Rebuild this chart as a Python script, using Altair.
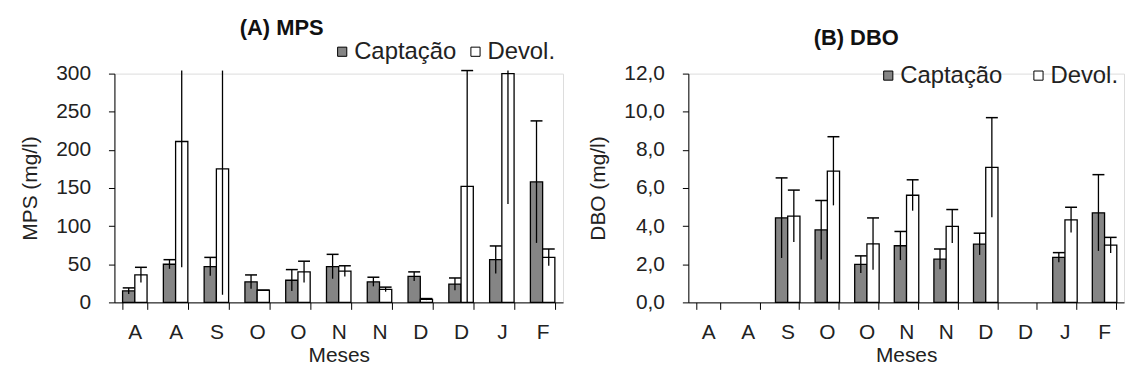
import altair as alt
import pandas as pd

FONT = "Liberation Sans"

meses = ["A", "A", "S", "O", "O", "N", "N", "D", "D", "J", "F"]
chaves = ["A1", "A2", "S", "O1", "O2", "N1", "N2", "D1", "D2", "J", "F"]
series = ["Captação", "Devol."]

# (A) MPS (mg/l)
mps_capt = [15, 50, 47, 27, 29, 47, 27, 34, 24, 56, 158]
mps_capt_err = [4, 6, 12, 9, 14, 16, 6, 6, 8, 18, 80]
mps_devol = [36, 211, 175, 16, 40, 41, 17, 4, 152, 300, 59]
mps_devol_err = [10, 165, 165, 0, 14, 7, 3, 1, 152, 171, 11]

# (B) DBO (mg/l)
dbo_capt = [None, None, 4.43, 3.80, 1.99, 2.97, 2.27, 3.06, None, 2.36, 4.70]
dbo_capt_err = [None, None, 2.1, 1.55, 0.45, 0.75, 0.53, 0.57, None, 0.25, 2.0]
dbo_devol = [None, None, 4.53, 6.89, 3.07, 5.62, 3.99, 7.08, None, 4.33, 3.0]
dbo_devol_err = [None, None, 1.36, 1.8, 1.36, 0.81, 0.88, 2.61, None, 0.66, 0.41]


def tabela(capt, capt_err, devol, devol_err):
    linhas = []
    for i, k in enumerate(chaves):
        for s, v, e in ((series[0], capt[i], capt_err[i]), (series[1], devol[i], devol_err[i])):
            if v is None:
                continue
            linhas.append({"chave": k, "serie": s, "valor": v, "erro": e})
    return pd.DataFrame(linhas)


label_expr = "datum.value == null ? '' : substring(datum.value, 0, 1)"


def painel(df, titulo, ytitulo, ymax, ystep, ylabel_expr, clip_max, w, h, legend_kw, title_kw):
    xaxis = alt.Axis(
        title="Meses",
        labelExpr=label_expr,
        labelAngle=0,
        tickBand="extent",
        tickSize=7,
        labelPadding=12,
        labelFontSize=21,
        titleFontSize=21,
        titleFontWeight="normal",
        titlePadding=2,
        domainColor="black",
        tickColor="black",
        labelColor="#222222",
        titleColor="#222222",
        labelFont=FONT,
        titleFont=FONT,
    )
    x = alt.X(
        "chave:N",
        sort=chaves,
        scale=alt.Scale(domain=chaves, paddingInner=0.4, paddingOuter=0.2),
        axis=xaxis,
    )
    xo = alt.XOffset("serie:N", sort=series, scale=alt.Scale(paddingInner=0, paddingOuter=0))
    yscale = alt.Scale(domain=[0, ymax], nice=False)
    yvals = [ystep * i for i in range(int(round(ymax / ystep)) + 1)]
    yaxis = alt.Axis(
        title=ytitulo,
        values=yvals,
        labelExpr=ylabel_expr,
        labelOverlap=False,
        grid=False,
        tickSize=6,
        labelPadding=18,
        titlePadding=15,
        labelFontSize=21,
        titleFontSize=21,
        titleFontWeight="normal",
        domainColor="black",
        tickColor="black",
        labelColor="#222222",
        titleColor="#222222",
        labelFont=FONT,
        titleFont=FONT,
    )
    base = alt.Chart(df)
    barras = base.mark_bar(stroke="black", strokeWidth=1.3).encode(
        x=x,
        xOffset=xo,
        y=alt.Y("valor:Q", scale=yscale, axis=yaxis),
        fill=alt.Fill(
            "serie:N",
            sort=series,
            scale=alt.Scale(domain=series, range=["#858585", "#ffffff"]),
            legend=alt.Legend(
                orient="none",
                direction="horizontal",
                title=None,
                symbolType="square",
                symbolSize=85,
                symbolStrokeColor="black",
                symbolStrokeWidth=1,
                labelFontSize=24,
                labelFont=FONT,
                labelColor="#222222",
                labelOffset=0,
                padding=0,
                **legend_kw,
            ),
        ),
    )
    erros = base.transform_calculate(
        lo="datum.valor - datum.erro",
        hi=f"min(datum.valor + datum.erro, {clip_max})",
    ).mark_rule(color="black", strokeWidth=1.3).encode(
        x=x, xOffset=xo, y=alt.Y("lo:Q", scale=yscale, axis=yaxis), y2="hi:Q"
    )
    tampas = base.transform_filter(
        f"datum.valor + datum.erro <= {clip_max}"
    ).transform_calculate(hi="datum.valor + datum.erro").mark_tick(
        orient="horizontal", size=12, thickness=1.5, color="black", opacity=1
    ).encode(x=x, xOffset=xo, y=alt.Y("hi:Q", scale=yscale, axis=yaxis))
    return alt.layer(barras, erros, tampas).properties(
        width=w,
        height=h,
        title=alt.TitleParams(
            text=titulo,
            anchor="start",
            frame="group",
            fontSize=22,
            fontWeight="bold",
            font=FONT,
            color="#111111",
            **title_kw,
        ),
    )


df_mps = tabela(mps_capt, mps_capt_err, mps_devol, mps_devol_err)
df_dbo = tabela(dbo_capt, dbo_capt_err, dbo_devol, dbo_devol_err)

pa = painel(
    df_mps, "(A) MPS", "MPS (mg/l)", 300, 50, "format(datum.value, 'd')", 304, 451, 230,
    dict(legendX=217, legendY=-34, columnPadding=7),
    dict(dx=126, offset=0),
)
pb = painel(
    df_dbo, "(B) DBO", "DBO (mg/l)", 12, 2,
    "replace(format(datum.value, '.1f'), '.', ',')", 99, 438, 230,
    dict(legendX=189, legendY=-10, columnPadding=24),
    dict(dx=126, offset=13),
)

chart = alt.hconcat(pa, pb, spacing=23).resolve_scale(fill="independent").resolve_legend(
    fill="independent"
).properties(
    padding={"left": 11, "top": 7, "right": 0, "bottom": 0}
).configure_view(stroke=None).configure(background="white")

chart.save("out.html", embed_options={"renderer": "svg", "actions": False})
